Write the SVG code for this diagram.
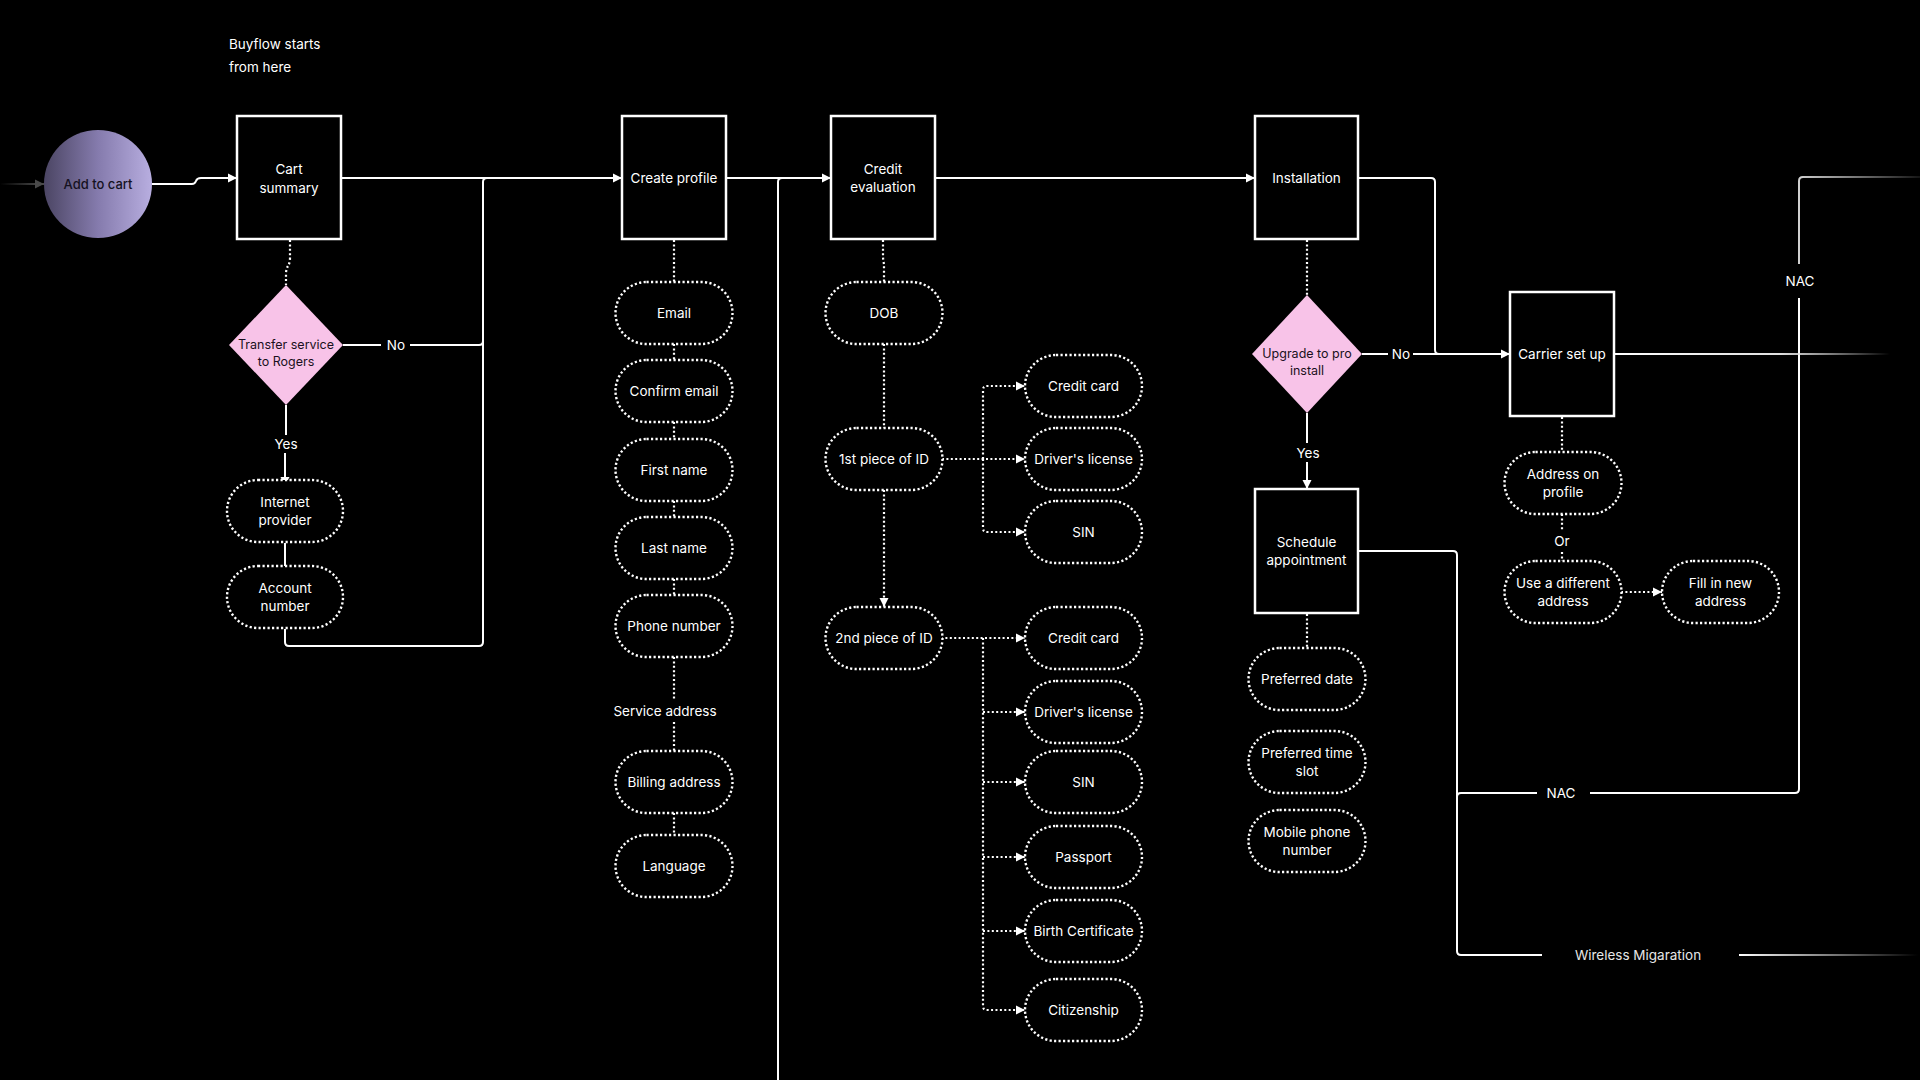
<svg xmlns="http://www.w3.org/2000/svg" width="1920" height="1080" viewBox="0 0 1920 1080">
<defs>
<style>
.t{font-family:Inter,"Liberation Sans",sans-serif;font-size:13.5px;fill:#fff;text-anchor:middle}
.tl{text-anchor:start}
.dk{fill:#1a1020;font-size:12.5px}
.cart{fill:#15121f;font-size:13px;font-weight:500}
.box{fill:#000;stroke:#fff;stroke-width:2.5}
.pill{fill:#000;stroke:#fff;stroke-width:2.4;stroke-dasharray:2.2 2.3}
.dia{fill:#f8c3e8}
.ln{fill:none;stroke:#fff;stroke-width:2}
.dl{fill:none;stroke:#fff;stroke-width:2.2;stroke-dasharray:2 2.4}
</style>
<marker id="ah" viewBox="0 0 10 10" refX="9" refY="5" markerWidth="10" markerHeight="10" markerUnits="userSpaceOnUse" orient="auto">
<path d="M0,0.5 L9,5 L0,9.5 z" fill="#fff"/>
</marker>
<marker id="ahg" viewBox="0 0 10 10" refX="9" refY="5" markerWidth="10" markerHeight="10" markerUnits="userSpaceOnUse" orient="auto">
<path d="M0,0.5 L9,5 L0,9.5 z" fill="#4a4a4a"/>
</marker>
<linearGradient id="cg" x1="0" y1="0" x2="1" y2="0">
<stop offset="0" stop-color="#4b4563"/>
<stop offset="0.5" stop-color="#857bad"/>
<stop offset="1" stop-color="#b8aee0"/>
</linearGradient>
<linearGradient id="inl" gradientUnits="userSpaceOnUse" x1="0" y1="0" x2="40" y2="0">
<stop offset="0" stop-color="#4a4a4a" stop-opacity="0"/>
<stop offset="1" stop-color="#4a4a4a"/>
</linearGradient>
<linearGradient id="fadeA" gradientUnits="userSpaceOnUse" x1="1614" y1="0" x2="1890" y2="0">
<stop offset="0" stop-color="#fff"/>
<stop offset="0.6" stop-color="#e0e0e0"/>
<stop offset="1" stop-color="#fff" stop-opacity="0"/>
</linearGradient>
<linearGradient id="fadeB" gradientUnits="userSpaceOnUse" x1="1799" y1="0" x2="1920" y2="0">
<stop offset="0" stop-color="#cfcfcf"/>
<stop offset="1" stop-color="#cfcfcf" stop-opacity="0.1"/>
</linearGradient>
<linearGradient id="fadeC" gradientUnits="userSpaceOnUse" x1="1739" y1="0" x2="1918" y2="0">
<stop offset="0" stop-color="#fff"/>
<stop offset="1" stop-color="#fff" stop-opacity="0"/>
</linearGradient>
</defs>
<rect width="1920" height="1080" fill="#000"/>

<text class="t tl" x="229" y="49">Buyflow starts</text>
<text class="t tl" x="229" y="72">from here</text>

<g id="connectors">
<path d="M0,184 H44" fill="none" stroke="url(#inl)" stroke-width="2" marker-end="url(#ahg)"/>
<path class="ln" d="M152,184 H192 Q195,184 196,181 Q197,178 201,178 H237" marker-end="url(#ah)"/>
<path class="ln" d="M341,178 H622" marker-end="url(#ah)"/>
<path class="dl" d="M290,240 V258 Q290,263 288,266 Q286,269 286,274 V285"/>
<path class="ln" d="M343,345 H381 M410,345 H479 Q483,345 483,341"/>
<path class="ln" d="M286,405 V435 M285,453 V486" marker-end="url(#ah)"/>
<path class="ln" d="M285,543 V566"/>
<path class="ln" d="M285,629 V642 Q285,646 289,646 H479 Q483,646 483,642 V182 Q483,178 487,178"/>
<path class="ln" d="M726,178 H831" marker-end="url(#ah)"/>
<path class="ln" d="M778,1080 V182 Q778,178 782,178"/>
<path class="ln" d="M935,178 H1255" marker-end="url(#ah)"/>
<path class="dl" d="M674,240 V282 M674,344 V360 M674,422 V439 M674,501 V517 M674,579 V595 M674,657 V701 M674,722 V751 M674,813 V835"/>
<path class="dl" d="M883,240 V256 Q883,260 884,264 V282 M884,344 V428"/>
<path class="dl" d="M884,490 V607" marker-end="url(#ah)"/>
<path class="dl" d="M942,459 H1025" marker-end="url(#ah)"/>
<path class="dl" d="M983,459 V390 Q983,386 987,386 H1025" marker-end="url(#ah)"/>
<path class="dl" d="M983,459 V528 Q983,532 987,532 H1025" marker-end="url(#ah)"/>
<path class="dl" d="M941,638 H1025" marker-end="url(#ah)"/>
<path class="dl" d="M983,638 V1006 Q983,1010 987,1010 H1025" marker-end="url(#ah)"/>
<path class="dl" d="M983,712 H1025" marker-end="url(#ah)"/>
<path class="dl" d="M983,782 H1025" marker-end="url(#ah)"/>
<path class="dl" d="M983,857 H1025" marker-end="url(#ah)"/>
<path class="dl" d="M983,931 H1025" marker-end="url(#ah)"/>
<path class="ln" d="M1358,178 H1431 Q1435,178 1435,182 V350 Q1435,354 1439,354"/>
<path class="dl" d="M1307,240 V295"/>
<path class="ln" d="M1362,354 H1388"/>
<path class="ln" d="M1413,354 H1510" marker-end="url(#ah)"/>
<path class="ln" d="M1307,413 V443 M1307,462 V489" marker-end="url(#ah)"/>
<path class="dl" d="M1307,614 V648"/>
<path class="ln" d="M1358,551 H1453 Q1457,551 1457,555 V951 Q1457,955 1461,955 H1542"/>
<path class="ln" d="M1457,797 Q1457,793 1461,793 H1537 M1590,793 H1795 Q1799,793 1799,789 V298"/>
<path fill="none" stroke="#d0d0d0" stroke-width="2" d="M1799,264 V181 Q1799,177 1803,177"/>
<path fill="none" stroke="url(#fadeB)" stroke-width="2" d="M1803,177 H1920"/>
<path fill="none" stroke="url(#fadeA)" stroke-width="2" d="M1614,354 H1890"/>
<path fill="none" stroke="url(#fadeC)" stroke-width="2" d="M1739,955 H1918"/>
<path class="dl" d="M1562,417 V452 M1562,514 V530 M1562,552 V561"/>
<path class="dl" d="M1621,592 H1662" marker-end="url(#ah)"/>
</g>

<g id="connector-labels">
<text class="t" x="396" y="350">No</text>
<text class="t" x="286" y="449">Yes</text>
<text class="t" x="1401" y="359">No</text>
<text class="t" x="1308" y="458">Yes</text>
<text class="t" x="1562" y="546">Or</text>
<text class="t" x="1561" y="798">NAC</text>
<text class="t" x="1800" y="286">NAC</text>
<text class="t" x="1638" y="960" style="fill:#e6e6e6">Wireless Migaration</text>
</g>

<g id="add-to-cart">
<circle cx="98" cy="184" r="54" fill="url(#cg)"/>
<text class="t cart" x="98" y="189">Add to cart</text>
</g>

<g id="cart-summary">
<rect class="box" x="237" y="116" width="104" height="123"/>
<text class="t" x="289" y="174">Cart</text>
<text class="t" x="289" y="193">summary</text>
</g>

<g id="transfer-service">
<polygon class="dia" points="286,285 343,345 286,405 229,345"/>
<text class="t dk" x="286" y="349">Transfer service</text>
<text class="t dk" x="286" y="366">to Rogers</text>
</g>

<g id="internet-provider">
<rect class="pill" x="227" y="480" width="116" height="62" rx="31"/>
<text class="t" x="285" y="507">Internet</text>
<text class="t" x="285" y="525">provider</text>
</g>
<g id="account-number">
<rect class="pill" x="227" y="566" width="116" height="62" rx="31"/>
<text class="t" x="285" y="593">Account</text>
<text class="t" x="285" y="611">number</text>
</g>

<g id="create-profile">
<rect class="box" x="622" y="116" width="104" height="123"/>
<text class="t" x="674" y="183">Create profile</text>
</g>
<g id="email">
<rect class="pill" x="615.5" y="282" width="117" height="62" rx="31"/>
<text class="t" x="674" y="318">Email</text>
</g>
<g id="confirm-email">
<rect class="pill" x="615.5" y="360" width="117" height="62" rx="31"/>
<text class="t" x="674" y="396">Confirm email</text>
</g>
<g id="first-name">
<rect class="pill" x="615.5" y="439" width="117" height="62" rx="31"/>
<text class="t" x="674" y="475">First name</text>
</g>
<g id="last-name">
<rect class="pill" x="615.5" y="517" width="117" height="62" rx="31"/>
<text class="t" x="674" y="553">Last name</text>
</g>
<g id="phone-number">
<rect class="pill" x="615.5" y="595" width="117" height="62" rx="31"/>
<text class="t" x="674" y="631">Phone number</text>
</g>
<g id="service-address">
<text class="t" x="665" y="716">Service address</text>
</g>
<g id="billing-address">
<rect class="pill" x="615.5" y="751" width="117" height="62" rx="31"/>
<text class="t" x="674" y="787">Billing address</text>
</g>
<g id="language">
<rect class="pill" x="615.5" y="835" width="117" height="62" rx="31"/>
<text class="t" x="674" y="871">Language</text>
</g>

<g id="credit-evaluation">
<rect class="box" x="831" y="116" width="104" height="123"/>
<text class="t" x="883" y="174">Credit</text>
<text class="t" x="883" y="192">evaluation</text>
</g>
<g id="dob">
<rect class="pill" x="825.5" y="282" width="117" height="62" rx="31"/>
<text class="t" x="884" y="318">DOB</text>
</g>
<g id="first-id">
<rect class="pill" x="825.5" y="428" width="117" height="62" rx="31"/>
<text class="t" x="884" y="464">1st piece of ID</text>
</g>
<g id="second-id">
<rect class="pill" x="825.5" y="607" width="117" height="62" rx="31"/>
<text class="t" x="884" y="643">2nd piece of ID</text>
</g>

<g id="id1-credit-card">
<rect class="pill" x="1025" y="355" width="117" height="62" rx="31"/>
<text class="t" x="1083.5" y="391">Credit card</text>
</g>
<g id="id1-drivers-license">
<rect class="pill" x="1025" y="428" width="117" height="62" rx="31"/>
<text class="t" x="1083.5" y="464">Driver's license</text>
</g>
<g id="id1-sin">
<rect class="pill" x="1025" y="501" width="117" height="62" rx="31"/>
<text class="t" x="1083.5" y="537">SIN</text>
</g>

<g id="id2-credit-card">
<rect class="pill" x="1025" y="607" width="117" height="62" rx="31"/>
<text class="t" x="1083.5" y="643">Credit card</text>
</g>
<g id="id2-drivers-license">
<rect class="pill" x="1025" y="681" width="117" height="62" rx="31"/>
<text class="t" x="1083.5" y="717">Driver's license</text>
</g>
<g id="id2-sin">
<rect class="pill" x="1025" y="751" width="117" height="62" rx="31"/>
<text class="t" x="1083.5" y="787">SIN</text>
</g>
<g id="id2-passport">
<rect class="pill" x="1025" y="826" width="117" height="62" rx="31"/>
<text class="t" x="1083.5" y="862">Passport</text>
</g>
<g id="id2-birth-certificate">
<rect class="pill" x="1025" y="900" width="117" height="62" rx="31"/>
<text class="t" x="1083.5" y="936">Birth Certificate</text>
</g>
<g id="id2-citizenship">
<rect class="pill" x="1025" y="979" width="117" height="62" rx="31"/>
<text class="t" x="1083.5" y="1015">Citizenship</text>
</g>

<g id="installation">
<rect class="box" x="1255" y="116" width="103" height="123"/>
<text class="t" x="1306.5" y="183">Installation</text>
</g>
<g id="upgrade-pro-install">
<polygon class="dia" points="1307,295 1362,354 1307,413 1252,354"/>
<text class="t dk" x="1307" y="358">Upgrade to pro</text>
<text class="t dk" x="1307" y="375">install</text>
</g>
<g id="schedule-appointment">
<rect class="box" x="1255" y="489" width="103" height="124"/>
<text class="t" x="1306.5" y="547">Schedule</text>
<text class="t" x="1306.5" y="565">appointment</text>
</g>
<g id="preferred-date">
<rect class="pill" x="1248.5" y="648" width="117" height="62" rx="31"/>
<text class="t" x="1307" y="684">Preferred date</text>
</g>
<g id="preferred-time-slot">
<rect class="pill" x="1248.5" y="731" width="117" height="62" rx="31"/>
<text class="t" x="1307" y="758">Preferred time</text>
<text class="t" x="1307" y="776">slot</text>
</g>
<g id="mobile-phone-number">
<rect class="pill" x="1248.5" y="810" width="117" height="62" rx="31"/>
<text class="t" x="1307" y="837">Mobile phone</text>
<text class="t" x="1307" y="855">number</text>
</g>

<g id="carrier-set-up">
<rect class="box" x="1510" y="292" width="104" height="124"/>
<text class="t" x="1562" y="359">Carrier set up</text>
</g>
<g id="address-on-profile">
<rect class="pill" x="1504.5" y="452" width="117" height="62" rx="31"/>
<text class="t" x="1563" y="479">Address on</text>
<text class="t" x="1563" y="497">profile</text>
</g>
<g id="use-different-address">
<rect class="pill" x="1504.5" y="561" width="117" height="62" rx="31"/>
<text class="t" x="1563" y="588">Use a different</text>
<text class="t" x="1563" y="606">address</text>
</g>
<g id="fill-new-address">
<rect class="pill" x="1662" y="561" width="117" height="62" rx="31"/>
<text class="t" x="1720.5" y="588">Fill in new</text>
<text class="t" x="1720.5" y="606">address</text>
</g>
</svg>
